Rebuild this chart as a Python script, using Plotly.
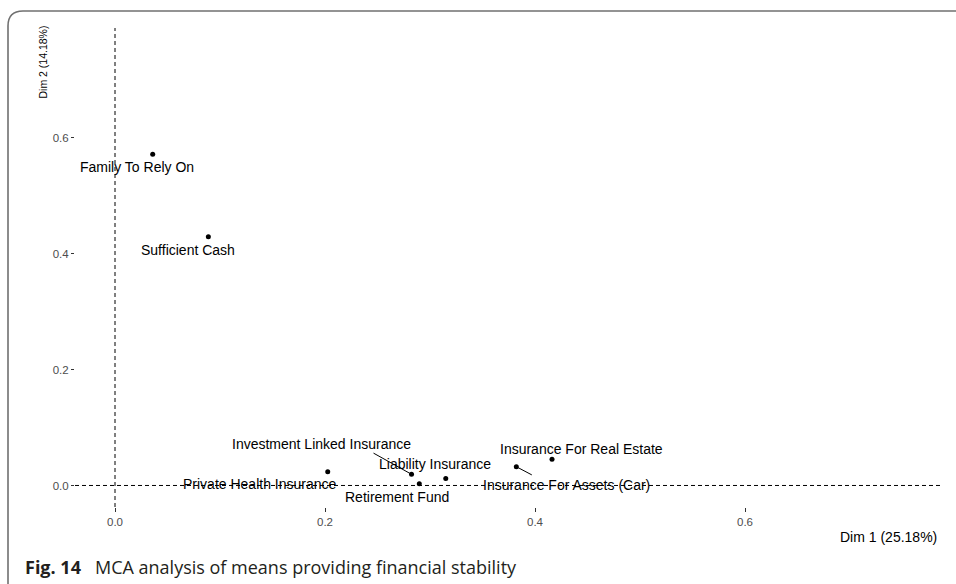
import plotly.graph_objects as go

# MCA coordinates of the category points
categories = [
    "Family To Rely On",
    "Sufficient Cash",
    "Private Health Insurance",
    "Investment Linked Insurance",
    "Retirement Fund",
    "Liability Insurance",
    "Insurance For Assets (Car)",
    "Insurance For Real Estate",
]
dim1 = [0.0359, 0.0889, 0.2026, 0.2824, 0.2898, 0.3150, 0.3822, 0.4162]
dim2 = [0.571, 0.429, 0.0238, 0.0193, 0.0029, 0.0121, 0.0324, 0.0452]

x_ticks = [0.0, 0.2, 0.4, 0.6]
y_ticks = [0.0, 0.2, 0.4, 0.6]
dim1_title = "Dim 1 (25.18%)"
dim2_title = "Dim 2 (14.18%)"
caption_tag = "Fig. 14"
caption_text = "MCA analysis of means providing financial stability"

# repel-style label placement: pixel offsets (right, down) of each label centre
label_dx = [-16, -20, -68, -90, -22, -11, 50, 29]
label_dy = [13, 13, 12, -30, 13, -14, 18, -10]
# leader segments for crowded labels: index -> pixel offset of segment tail
segments = {3: (-39.5, -22), 6: (17, 9)}

W, H = 956, 584
ML, MR, MT, MB = 75, 16, 28, 77
PW, PH = W - ML - MR, H - MT - MB


def px_to_paper(px, py):
    return (px - ML) / PW, (H - MB - py) / PH


LABEL_FONT = dict(family="Liberation Sans, Arial, sans-serif", size=14, color="black")

fig = go.Figure()
fig.add_trace(
    go.Scatter(
        x=dim1,
        y=dim2,
        mode="markers",
        marker=dict(color="black", size=5),
        hoverinfo="text",
        text=categories,
        showlegend=False,
    )
)

annotations = []
for i, name in enumerate(categories):
    annotations.append(
        dict(
            x=dim1[i], y=dim2[i], xref="x", yref="y",
            text=name, showarrow=False,
            xshift=label_dx[i], yshift=-label_dy[i],
            xanchor="center", yanchor="middle",
            font=LABEL_FONT,
        )
    )
for i, (sx, sy) in segments.items():
    annotations.append(
        dict(
            x=dim1[i], y=dim2[i], xref="x", yref="y",
            text="", showarrow=True, arrowhead=0, arrowwidth=1,
            arrowcolor="black", ax=sx, ay=sy, standoff=2,
            font=dict(size=1),
        )
    )

# axis titles
tx, ty = px_to_paper(42, 24)
annotations.append(
    dict(x=tx, y=ty, xref="paper", yref="paper", text=dim2_title,
         textangle=-90, showarrow=False, xanchor="center", yanchor="top",
         font=dict(family="Liberation Sans, Arial, sans-serif", size=10.5, color="black"))
)
tx, ty = px_to_paper(939, 537)
annotations.append(
    dict(x=tx, y=ty, xref="paper", yref="paper", text=dim1_title,
         showarrow=False, xanchor="right", yanchor="middle", font=LABEL_FONT)
)

shapes = [
    dict(type="line", xref="x", yref="paper", x0=0, x1=0, y0=0, y1=1,
         line=dict(color="black", width=1, dash="4px,3px"), layer="below"),
    dict(type="line", xref="paper", yref="y", x0=0, x1=1, y0=0, y1=0,
         line=dict(color="black", width=1, dash="4px,3px"), layer="below"),
]

# figure frame with rounded top-left corner
p = [px_to_paper(*pt) for pt in [(8, 586), (8, 26), (8, 11), (23, 11), (958, 11)]]
path = "M {} {} L {} {} Q {} {} {} {} L {} {}".format(
    p[0][0], p[0][1], p[1][0], p[1][1], p[2][0], p[2][1], p[3][0], p[3][1], p[4][0], p[4][1]
)
shapes.append(dict(type="path", xref="paper", yref="paper", path=path,
                   line=dict(color="#707070", width=1.6)))

TICK_FONT = dict(family="Liberation Sans, Arial, sans-serif", size=11.5, color="#4D4D4D")

fig.update_layout(
    width=W,
    height=H,
    margin=dict(l=ML, r=MR, t=MT, b=MB, pad=0),
    paper_bgcolor="white",
    plot_bgcolor="white",
    annotations=annotations,
    shapes=shapes,
    title=dict(
        text="<b>{}</b>&nbsp;&nbsp;&nbsp;{}".format(caption_tag, caption_text),
        xref="container", yref="container",
        x=25 / W, y=1 - 568 / H, xanchor="left", yanchor="middle",
        font=dict(family="Open Sans, Noto Sans, sans-serif", size=18, color="#231F20"),
    ),
    xaxis=dict(
        range=[-0.0381, 0.7857],
        tickvals=x_ticks,
        ticktext=["{:.1f}".format(v) for v in x_ticks],
        ticks="outside", ticklen=4, tickwidth=1, tickcolor="#333333",
        showgrid=False, zeroline=False, showline=False,
        tickfont=TICK_FONT,
    ),
    yaxis=dict(
        range=[-0.0371, 0.7888],
        tickvals=y_ticks,
        ticktext=["{:.1f}".format(v) for v in y_ticks],
        ticks="outside", ticklen=3, tickwidth=1, tickcolor="#333333",
        showgrid=False, zeroline=False, showline=False,
        tickfont=TICK_FONT,
    ),
)

fig.write_html("out.html")
